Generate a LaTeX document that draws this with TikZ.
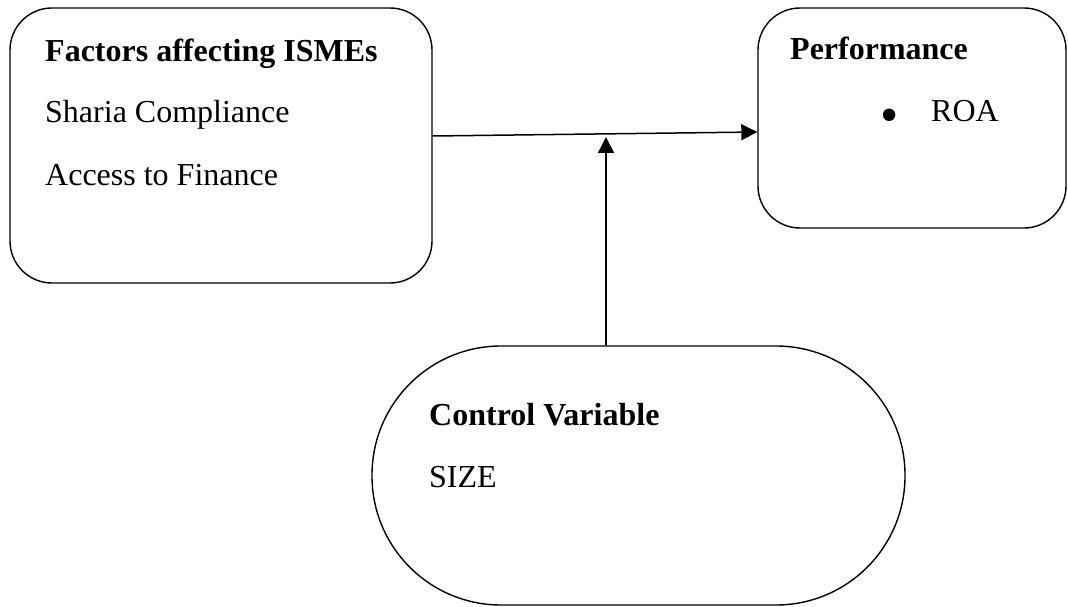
\documentclass[tikz,border=0pt]{standalone}
\usepackage{fontspec}
\setmainfont{Liberation Serif}
\usetikzlibrary{arrows.meta}
\begin{document}
\begin{tikzpicture}[x=1pt,y=-1pt,
  box/.style={draw=black,line width=1.4pt,rounded corners=42pt,inner sep=0pt},
  pill/.style={draw=black,line width=1.4pt,rounded corners=129pt,inner sep=0pt},
  txt/.style={anchor=base west,inner sep=0pt,font=\fontsize{32}{38}\selectfont},
  btxt/.style={txt,font=\fontsize{32}{38}\selectfont\bfseries},
  arr/.style={line width=1.5pt,-{Triangle[length=16pt,width=16pt]}}]
\useasboundingbox (0,0) rectangle (1068,607);
\node[box,minimum width=422pt,minimum height=275pt] (fac) at (221,145.5) {};
\node[box,minimum width=308pt,minimum height=220pt] (perf) at (912,118) {};
\node[pill,minimum width=533pt,minimum height=259pt] (ctrl) at (638.5,475.5) {};
\node[btxt] (t1) at (45,62) {Factors affecting ISMEs};
\node[txt] (t2) at (45,123) {Sharia Compliance};
\node[txt] (t3) at (45,185) {Access to Finance};
\node[btxt] (t4) at (790,60) {Performance};
\node[anchor=center,inner sep=0pt,font=\fontsize{52}{52}\selectfont] (t5) at (890,121) {•};
\node[txt] (t6) at (931,122) {ROA};
\node[btxt] (t7) at (429,425) {Control Variable};
\node[txt] (t8) at (429,487) {SIZE};
\coordinate (tip) at (606,137);
\draw[arr] ([yshift=9.5pt]fac.east) -- ([yshift=-14pt]perf.west);
\draw[arr] ([xshift=-32.5pt]ctrl.north) -- (tip);
\end{tikzpicture}
\end{document}
